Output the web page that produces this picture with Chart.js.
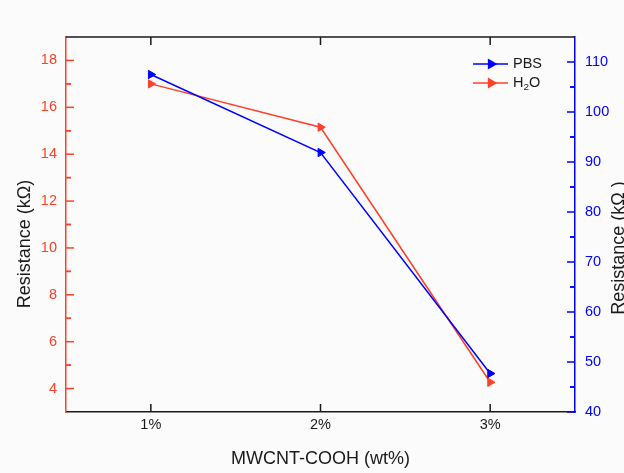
<!DOCTYPE html>
<html>
<head>
<meta charset="utf-8">
<script src="https://cdn.jsdelivr.net/npm/chart.js@4.4.1/dist/chart.umd.min.js"></script>
<style>
    html, body { margin: 0; padding: 0; background: #fbfbfb; overflow: hidden; }
    #wrap { width: 624px; height: 473px; }
</style>
</head>
<body>
<div id="wrap"><canvas id="resChart" width="624" height="473"></canvas></div>
<script>
// Данные: сопротивление при разной концентрации MWCNT-COOH
const categories = ['1%', '2%', '3%'];
const pbsValues = [107.5, 91.9, 47.7];   // PBS, правая ось (kΩ)
const h2oValues = [17.0, 15.15, 4.27];   // H2O, левая ось (kΩ)
const seriesNames = ['PBS', 'H2O'];

// Диапазоны осей
const leftRange = { min: 3, max: 19, step: 2 };
const rightRange = { min: 40, max: 115, step: 10 };

const RED = '#ff4028';
const BLUE = '#0000ff';
const BLACK = '#1a1a1a';
const FONT = 'Liberation Sans, Arial, Helvetica, sans-serif';

// Оставляем только основные деления, кратные шагу
function keepMajor(step) {
    return function (scale) {
        scale.ticks = scale.ticks.filter(t => Math.abs(t.value % step) < 1e-9);
    };
}

// Текст с цифрами в нижнем индексе (H2O)
function drawFormula(ctx, text, x, y, size) {
    let cx = x;
    for (const ch of text) {
        const isDigit = /[0-9]/.test(ch);
        ctx.font = (isDigit ? size * 0.68 : size) + 'px ' + FONT;
        ctx.fillText(ch, cx, isDigit ? y + size * 0.3 : y);
        cx += ctx.measureText(ch).width;
    }
}

// Рамка, внутренние деления и подписи правой/левой оси
const framePlugin = {
    id: 'frameTicks',
    afterDraw(chart) {
        const ctx = chart.ctx;
        const area = chart.chartArea;
        const x = chart.scales.x;
        const yL = chart.scales.yL;
        const yR = chart.scales.yR;
        ctx.save();
        ctx.lineWidth = 1.5;

        // верхняя линия рамки
        ctx.strokeStyle = BLACK;
        ctx.beginPath();
        ctx.moveTo(area.left, area.top);
        ctx.lineTo(area.right, area.top);
        ctx.stroke();

        // деления по X (снизу и сверху, внутрь)
        x.ticks.forEach((t, i) => {
            const px = x.getPixelForTick(i);
            ctx.beginPath();
            ctx.moveTo(px, area.bottom);
            ctx.lineTo(px, area.bottom - 8);
            ctx.moveTo(px, area.top);
            ctx.lineTo(px, area.top + 8);
            ctx.stroke();
        });

        // деления по Y: основные и промежуточные
        const yTicks = (scale, range, color, dir, edge) => {
            ctx.strokeStyle = color;
            const draw = (v, len) => {
                const py = scale.getPixelForValue(v);
                ctx.beginPath();
                ctx.moveTo(edge, py);
                ctx.lineTo(edge + dir * len, py);
                ctx.stroke();
            };
            scale.ticks.forEach(t => {
                draw(t.value, 8);
                [t.value - range.step / 2, t.value + range.step / 2].forEach(m => {
                    if (m > range.min && m < range.max) draw(m, 5);
                });
            });
        };
        yTicks(yL, leftRange, RED, 1, area.left);
        yTicks(yR, rightRange, BLUE, -1, area.right);

        // подписи вертикальных осей
        ctx.fillStyle = BLACK;
        ctx.font = '18px ' + FONT;
        ctx.textAlign = 'center';
        ctx.textBaseline = 'middle';
        ctx.save();
        ctx.translate(25, area.top + 207);
        ctx.rotate(-Math.PI / 2);
        ctx.fillText('Resistance (kΩ)', 0, 0);
        ctx.restore();
        ctx.save();
        ctx.translate(area.right + 44, area.top + 211);
        ctx.rotate(-Math.PI / 2);
        ctx.fillText('Resistance (kΩ )', 0, 0);
        ctx.restore();
        ctx.restore();
    }
};

// Легенда внутри области графика
const legendPlugin = {
    id: 'innerLegend',
    afterDraw(chart) {
        const ctx = chart.ctx;
        const area = chart.chartArea;
        const x0 = area.right - 102;
        const y0 = area.top + 27;
        ctx.save();
        chart.data.datasets.forEach((ds, i) => {
            const y = y0 + i * 19;
            ctx.strokeStyle = ds.borderColor;
            ctx.lineWidth = ds.borderWidth;
            ctx.beginPath();
            ctx.moveTo(x0, y);
            ctx.lineTo(x0 + 35, y);
            ctx.stroke();
            ctx.fillStyle = ds.pointBackgroundColor;
            Chart.helpers.drawPoint(ctx, {
                pointStyle: ds.pointStyle,
                rotation: ds.pointRotation,
                radius: ds.pointRadius,
                borderWidth: ds.pointBorderWidth
            }, x0 + 18, y);
            ctx.fillStyle = BLACK;
            ctx.textAlign = 'left';
            ctx.textBaseline = 'middle';
            drawFormula(ctx, ds.label, x0 + 40, y, 14.5);
        });
        ctx.restore();
    }
};

function lineSeries(label, data, color, axis) {
    return {
        label: label,
        data: data,
        yAxisID: axis,
        borderColor: color,
        backgroundColor: color,
        borderWidth: 1.5,
        pointStyle: 'triangle',
        pointRotation: 90,
        pointRadius: 4.8,
        pointBorderWidth: 1,
        pointBackgroundColor: color,
        pointBorderColor: color,
        tension: 0,
        clip: false
    };
}

const ctx = document.getElementById('resChart').getContext('2d');
const chart = new Chart(ctx, {
    type: 'line',
    data: {
        labels: categories,
        datasets: [
            lineSeries(seriesNames[0], pbsValues, BLUE, 'yR'),
            lineSeries(seriesNames[1], h2oValues, RED, 'yL')
        ]
    },
    options: {
        responsive: false,
        animation: false,
        events: [],
        layout: { padding: { top: 37, left: 0, right: 0, bottom: 0 } },
        plugins: {
            legend: { display: false },
            tooltip: { enabled: false }
        },
        scales: {
            x: {
                type: 'category',
                offset: true,
                grid: { display: false, drawTicks: false },
                border: { color: BLACK, width: 1.5 },
                ticks: { color: BLACK, padding: 4, font: { family: FONT, size: 14.5 } },
                title: {
                    display: true,
                    text: 'MWCNT-COOH (wt%)',
                    color: BLACK,
                    font: { family: FONT, size: 18 },
                    padding: { top: 0, bottom: 3 }
                },
                afterFit(scale) { scale.height = 61; }
            },
            yL: {
                position: 'left',
                min: leftRange.min,
                max: leftRange.max,
                grid: { display: false, drawTicks: false },
                border: { color: RED, width: 1.5 },
                // шаг 1, затем оставляем только чётные значения
                ticks: { stepSize: 1, color: RED, padding: 9, font: { family: FONT, size: 14.5 } },
                afterBuildTicks: keepMajor(leftRange.step),
                afterFit(scale) { scale.width = 66; }
            },
            yR: {
                position: 'right',
                min: rightRange.min,
                max: rightRange.max,
                grid: { display: false, drawTicks: false },
                border: { color: BLUE, width: 1.5 },
                ticks: { stepSize: rightRange.step, color: BLUE, padding: 10, font: { family: FONT, size: 14.5 } },
                afterBuildTicks: keepMajor(rightRange.step),
                afterFit(scale) { scale.width = 49; }
            }
        }
    },
    plugins: [framePlugin, legendPlugin]
});
</script>
</body>
</html>
